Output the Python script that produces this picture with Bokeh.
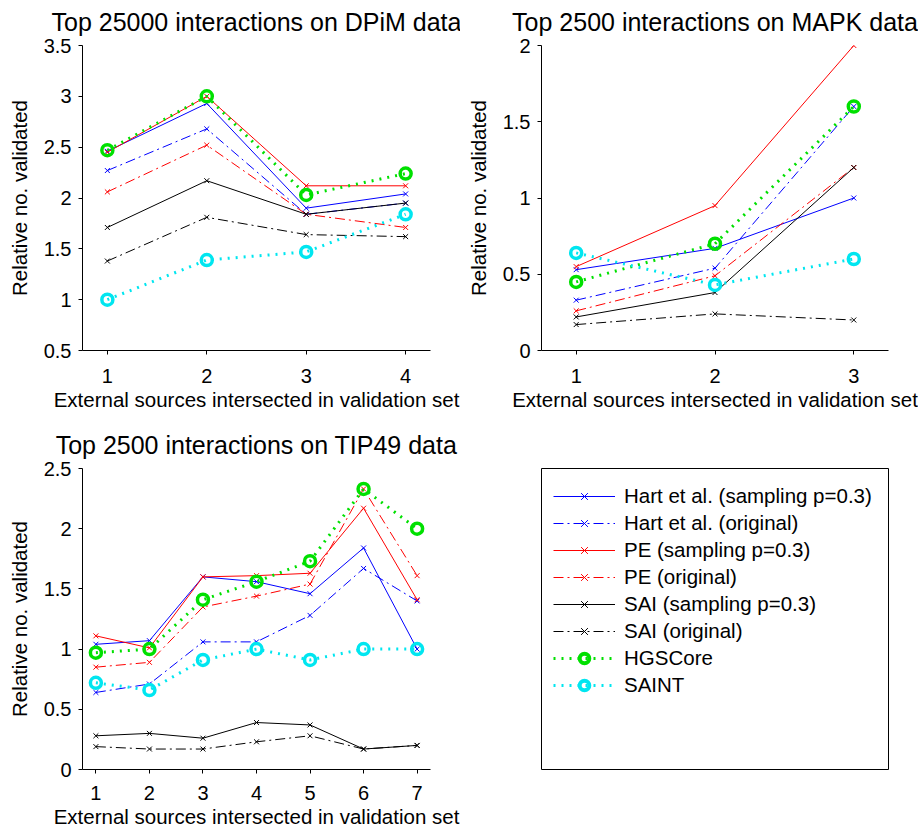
from bokeh.plotting import figure
from bokeh.models import FixedTicker, Range1d, Legend, LegendItem, LinearAxis
from bokeh.layouts import column, row
from bokeh.embed import file_html
from bokeh.resources import INLINE

# ---------------- data ----------------
series_names = ["Hart et al. (sampling p=0.3)", "Hart et al. (original)",
                "PE (sampling p=0.3)", "PE (original)",
                "SAI (sampling p=0.3)", "SAI (original)",
                "HGSCore", "SAINT"]

dpim_title = "Top 25000 interactions on DPiM data"
dpim_x = [1, 2, 3, 4]
dpim_hart_s = [2.46, 2.93, 1.90, 2.04]
dpim_hart_o = [2.27, 2.68, 1.84, 1.95]
dpim_pe_s = [2.45, 3.00, 2.12, 2.12]
dpim_pe_o = [2.06, 2.52, 1.84, 1.71]
dpim_sai_s = [1.71, 2.17, 1.84, 1.95]
dpim_sai_o = [1.38, 1.81, 1.64, 1.62]
dpim_hgs = [2.47, 3.00, 2.03, 2.24]
dpim_saint = [1.00, 1.39, 1.47, 1.84]
dpim_yticks = [0.5, 1.0, 1.5, 2.0, 2.5, 3.0, 3.5]
dpim_ylabels = ["0.5", "1", "1.5", "2", "2.5", "3", "3.5"]

mapk_title = "Top 2500 interactions on MAPK data"
mapk_x = [1, 2, 3]
mapk_hart_s = [0.53, 0.67, 1.00]
mapk_hart_o = [0.33, 0.54, 1.60]
mapk_pe_s = [0.55, 0.95, 2.00]
mapk_pe_o = [0.26, 0.49, 1.20]
mapk_sai_s = [0.22, 0.38, 1.20]
mapk_sai_o = [0.17, 0.24, 0.20]
mapk_hgs = [0.45, 0.70, 1.60]
mapk_saint = [0.64, 0.43, 0.60]
mapk_yticks = [0.0, 0.5, 1.0, 1.5, 2.0]
mapk_ylabels = ["0", "0.5", "1", "1.5", "2"]

tip_title = "Top 2500 interactions on TIP49 data"
tip_x = [1, 2, 3, 4, 5, 6, 7]
tip_hart_s = [1.04, 1.07, 1.60, 1.56, 1.46, 1.84, 1.00]
tip_hart_o = [0.64, 0.71, 1.06, 1.06, 1.28, 1.67, 1.40]
tip_pe_s = [1.11, 1.01, 1.60, 1.61, 1.63, 2.17, 1.41]
tip_pe_o = [0.85, 0.89, 1.35, 1.44, 1.54, 2.33, 1.61]
tip_sai_s = [0.28, 0.30, 0.26, 0.39, 0.37, 0.17, 0.20]
tip_sai_o = [0.19, 0.17, 0.17, 0.23, 0.28, 0.17, 0.20]
tip_hgs = [0.97, 1.00, 1.41, 1.56, 1.73, 2.33, 2.00]
tip_saint = [0.72, 0.66, 0.91, 1.00, 0.91, 1.00, 1.00]
tip_yticks = [0.0, 0.5, 1.0, 1.5, 2.0, 2.5]
tip_ylabels = ["0", "0.5", "1", "1.5", "2", "2.5"]

x_label = "External sources intersected in validation set"
y_label = "Relative no. validated"

# ---------------- styles ----------------
FONT = "Liberation Sans"
BLUE, RED, BLACK, GREEN, CYAN = "#0000ff", "#ff0000", "#000000", "#00e000", "#00e6f0"
DASHDOT = "10 4 2 4"
DOTTED = "2 6"
styles = [
    dict(color=BLUE, dash="solid", lw=1, marker="x"),
    dict(color=BLUE, dash=DASHDOT, lw=1, marker="x"),
    dict(color=RED, dash="solid", lw=1, marker="x"),
    dict(color=RED, dash=DASHDOT, lw=1, marker="x"),
    dict(color=BLACK, dash="solid", lw=1, marker="x"),
    dict(color=BLACK, dash=DASHDOT, lw=1, marker="x"),
    dict(color=GREEN, dash=DOTTED, lw=3, marker="circle"),
    dict(color=CYAN, dash=DOTTED, lw=3, marker="circle"),
]


def draw_series(p, xs, ys, st, ring_width=3.5):
    lr = p.line(xs, ys, line_color=st["color"], line_dash=st["dash"],
                line_width=st["lw"])
    if st["marker"] == "x":
        sr = p.scatter(xs, ys, marker="x", size=7, line_color=st["color"],
                       line_width=1)
    else:
        sr = p.scatter(xs, ys, marker="circle", size=11, line_color=st["color"],
                       line_width=ring_width, fill_color=None)
    return lr, sr


def make_panel(title, xs, series, yticks, ylabels, yrange, width, height,
               bl, br, bt, bb, xl_standoff=14, xa_standoff=2):
    p = figure(width=width, height=height, output_backend="svg",
               toolbar_location=None,
               x_range=Range1d(0.75, max(xs) + 0.25),
               y_range=Range1d(*yrange),
               min_border_left=bl, min_border_right=br,
               min_border_top=bt, min_border_bottom=bb)
    xa = p.below[0]
    ya = p.left[0]

    # panel title, centred over the plotting area (no ticks, no labels)
    tax = LinearAxis(axis_label=title, ticker=FixedTicker(ticks=[]),
                     axis_line_color=None, major_tick_line_color=None,
                     minor_tick_line_color=None, major_tick_out=0,
                     major_tick_in=0, major_label_standoff=0,
                     major_label_text_font_size="0px",
                     axis_label_standoff=10,
                     axis_label_text_font=FONT,
                     axis_label_text_font_size="25px",
                     axis_label_text_font_style="normal",
                     axis_label_text_color="black")
    p.add_layout(tax, "above")
    p.outline_line_color = None
    p.grid.visible = False
    p.background_fill_color = "white"
    p.border_fill_color = "white"

    xa.ticker = FixedTicker(ticks=xs)
    ya.ticker = FixedTicker(ticks=yticks)
    ya.major_label_overrides = {float(t): l for t, l in zip(yticks, ylabels)}
    xa.axis_label = x_label
    ya.axis_label = y_label
    for ax in (xa, ya):
        ax.minor_tick_line_color = None
        ax.major_tick_in = 0
        ax.major_tick_out = 4
        ax.axis_line_color = "black"
        ax.major_tick_line_color = "black"
        ax.major_label_text_font = FONT
        ax.major_label_text_font_size = "20px"
        ax.major_label_text_color = "black"
        ax.axis_label_text_font = FONT
        ax.axis_label_text_font_size = "20.5px"
        ax.axis_label_text_font_style = "normal"
        ax.axis_label_text_color = "black"
    xa.major_label_standoff = xl_standoff
    xa.axis_label_standoff = xa_standoff
    ya.major_label_standoff = 7
    ya.axis_label_standoff = 10

    for ys, st in zip(series, styles):
        draw_series(p, xs, ys, st)
    return p


p1 = make_panel(dpim_title, dpim_x,
                [dpim_hart_s, dpim_hart_o, dpim_pe_s, dpim_pe_o,
                 dpim_sai_s, dpim_sai_o, dpim_hgs, dpim_saint],
                dpim_yticks, dpim_ylabels, (0.5, 3.5),
                460, 420, 82, 30, 44, 70)
p2 = make_panel(mapk_title, mapk_x,
                [mapk_hart_s, mapk_hart_o, mapk_pe_s, mapk_pe_o,
                 mapk_sai_s, mapk_sai_o, mapk_hgs, mapk_saint],
                mapk_yticks, mapk_ylabels, (0.0, 2.0),
                458, 420, 81, 30, 45, 69)
p3 = make_panel(tip_title, tip_x,
                [tip_hart_s, tip_hart_o, tip_pe_s, tip_pe_o,
                 tip_sai_s, tip_sai_o, tip_hgs, tip_saint],
                tip_yticks, tip_ylabels, (0.0, 2.5),
                460, 410, 82, 30, 48, 59, xl_standoff=12, xa_standoff=2)

# legend panel
p4 = figure(width=458, height=410, output_backend="svg", toolbar_location=None,
            x_range=Range1d(0, 1), y_range=Range1d(0, 1),
            x_axis_type=None, y_axis_type=None,
            min_border_left=81, min_border_right=30,
            min_border_top=48, min_border_bottom=57)
p4.grid.visible = False
p4.outline_line_color = "black"
p4.outline_line_width = 1
p4.background_fill_color = "white"
p4.border_fill_color = "white"

nan = float("nan")
items = []
for name, st in zip(series_names, styles):
    lr, sr = draw_series(p4, [nan], [nan], st, ring_width=4)
    items.append(LegendItem(label=name, renderers=[lr, sr]))

leg = Legend(items=items, location=(12, 72), padding=13, margin=0, spacing=3,
             label_height=24, glyph_height=24, glyph_width=62, label_standoff=9,
             border_line_color=None, background_fill_alpha=0,
             label_text_font=FONT, label_text_font_size="20.5px",
             label_text_color="black")
p4.add_layout(leg)

layout = column(row(p1, p2), row(p3, p4))

open("out.html", "w").write(file_html(layout, INLINE))
